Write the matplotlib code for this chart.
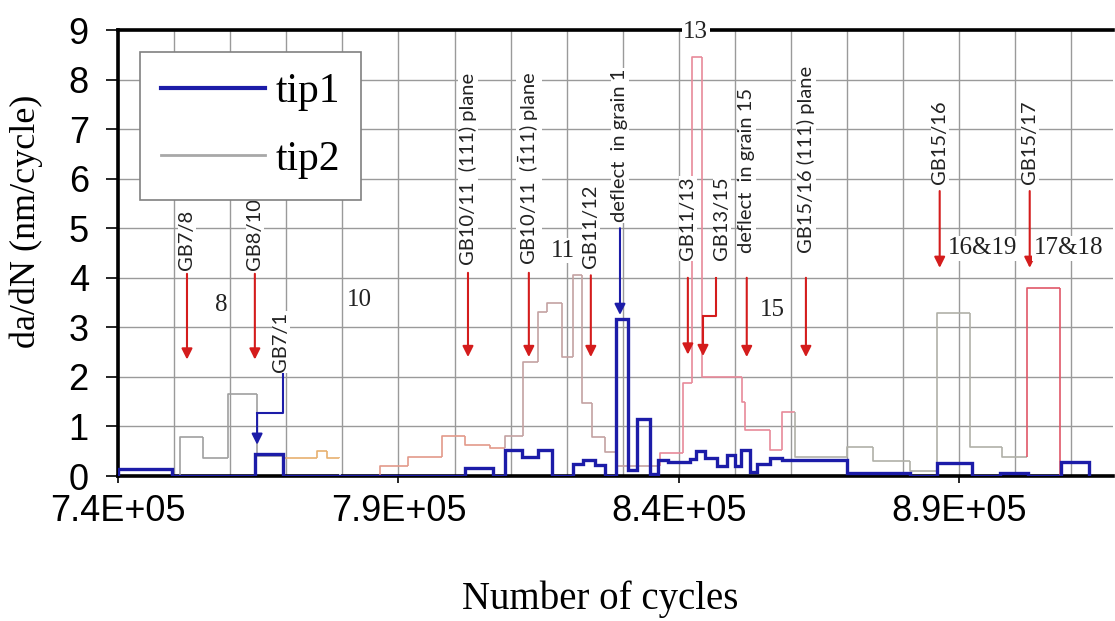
import numpy as np
import matplotlib.pyplot as plt
from matplotlib.lines import Line2D
from matplotlib.collections import LineCollection
from matplotlib.ticker import FixedLocator, MultipleLocator, FuncFormatter

plt.rcParams['mathtext.fontset'] = 'custom'
plt.rcParams['mathtext.rm'] = 'Lato'

# ---------- data ----------
# tip1: step edges (cycles) and da/dN values (nm/cycle)
tip1_edges = [740000, 749600, 764500, 769400, 801900, 806900, 809000, 812000, 814900,
              817400, 821100, 822900, 825000, 826800, 828800, 830900, 832500, 834900,
              836300, 838100, 841900, 843100, 844600, 846800, 848600, 850000, 851100,
              852700, 853900, 856200, 858400, 869900, 881200, 886000, 892200, 897200,
              902200, 908200, 913200]
tip1_vals = [0.15, 0, 0.45, 0, 0.16, 0, 0.52, 0.38, 0.52, 0, 0.25, 0.32, 0.22, 0,
             3.17, 0.12, 1.15, 0.05, 0.33, 0.28, 0.35, 0.5, 0.36, 0.2, 0.42, 0.2,
             0.52, 0.08, 0.25, 0.36, 0.32, 0.06, 0, 0.26, 0, 0.06, 0, 0.28]

# tip2: step edges, values and the tint of each step
tip2_edges = [751050, 755150, 759600, 764800, 769400, 775500, 777250, 779600, 786700,
              791700, 797750, 801850, 806300, 809000, 812200, 814850, 816500, 819150,
              821100, 822700, 824500, 826800, 828950, 836600, 840700, 842300, 844100,
              851200, 851750, 856200, 858350, 860650, 869950, 874600, 881150, 886000,
              891850, 897550, 902000, 907900]
tip2_vals = [0.78, 0.36, 1.65, 0.4, 0.36, 0.5, 0.36, 0, 0.2, 0.39, 0.8, 0.62, 0.56,
             0.8, 2.3, 3.3, 3.5, 2.4, 4.05, 1.47, 0.79, 0.48, 0.2, 0.46, 1.87, 8.45,
             2.0, 1.5, 0.93, 0.52, 1.29, 0.38, 0.58, 0.3, 0.1, 3.29, 0.58, 0.38, 3.79]
tip2_colors = ['#a0a0a0'] * 4 + ['#e8b070'] * 3 + ['#ffffff'] + ['#e39a8a'] * 5 + \
              ['#c4a2a2'] * 10 + ['#e88a9a'] * 8 + ['#b0b0a8'] * 7 + ['#e05868']

# red arrows: grain boundaries / slip planes
gb_x = [752300, 764400, 802400, 813250, 824300, 841600, 852100, 862650, 886500, 902550]
gb_text = ['GB7/8', 'GB8/10', 'GB10/11  (111) plane', r'GB10/11  $(\bar{1}11)$ plane',
           'GB11/12', 'GB11/13', 'deflect  in grain 15', 'GB15/16 (111) plane',
           'GB15/16', 'GB15/17']
gb_text_y = [4.15, 4.15, 4.25, 4.25, 4.2, 4.35, 4.5, 4.5, 5.9, 5.9]
gb_from = [4.08, 4.08, 4.1, 4.1, 4.05, 4.0, 4.0, 4.0, 5.75, 5.75]
gb_to = [2.35, 2.35, 2.4, 2.4, 2.4, 2.45, 2.4, 2.4, 4.2, 4.2]

# bent red arrow GB13/15
gb1315_x = [846600, 846600, 844300]
gb1315_y = [4.0, 3.22, 3.22]
gb1315_tip = 2.42

# blue arrows (tip1 events)
defl_x, defl_text_y, defl_from, defl_to = 829500, 5.12, 5.0, 3.25
gb71_x = [769400, 769400, 764800]
gb71_y = [2.07, 1.27, 1.27]
gb71_tip = 0.63

# grain numbers
grain_x = [758350, 783100, 819300, 843000, 856750, 894200, 909400]
grain_y = [3.45, 3.55, 4.55, 8.95, 3.35, 4.6, 4.6]
grain_text = ['8', '10', '11', '13', '15', '16&19', '17&18']

# ---------- plot ----------
blue = '#1c1ca8'
red = '#d41c1c'

fig = plt.figure(figsize=(11.15, 6.21), dpi=100)
ax = fig.add_axes([118 / 1115, 145 / 621, 995 / 1115, 446 / 621])

ax.stairs(tip1_vals, tip1_edges, baseline=0, color=blue, lw=2.4, zorder=4)

segs, cols = [], []
prev = 0
for i, v in enumerate(tip2_vals):
    x0, x1 = tip2_edges[i], tip2_edges[i + 1]
    segs.append([(x0, prev), (x0, v), (x1, v)])
    cols.append(tip2_colors[i])
    prev = v
segs.append([(tip2_edges[-1], prev), (tip2_edges[-1], 0)])
cols.append(tip2_colors[-1])
ax.add_collection(LineCollection(segs, colors=cols, linewidths=1.2, zorder=3))

lab_kw = dict(rotation=90, ha='center', va='bottom', fontsize=14.5, family='Lato',
              color='#222222', zorder=5, bbox=dict(fc='white', ec='none', pad=0.5))
arrow_kw = dict(arrowstyle='-|>', lw=1.5, mutation_scale=16, shrinkA=0, shrinkB=0)
for x, s, ty, y0, y1 in zip(gb_x, gb_text, gb_text_y, gb_from, gb_to):
    ax.text(x, ty, s, **lab_kw)
    ax.annotate('', xy=(x, y1), xytext=(x, y0),
                arrowprops=dict(color=red, **arrow_kw), zorder=5)

ax.plot(gb1315_x, gb1315_y, color=red, lw=1.5, zorder=5)
ax.annotate('', xy=(gb1315_x[-1], gb1315_tip), xytext=(gb1315_x[-1], gb1315_y[-1]),
            arrowprops=dict(color=red, **arrow_kw), zorder=5)
ax.text(847650, 4.35, 'GB13/15', **lab_kw)

ax.text(defl_x, defl_text_y, 'deflect  in grain 1', **lab_kw)
ax.annotate('', xy=(defl_x, defl_to), xytext=(defl_x, defl_from),
            arrowprops=dict(color=blue, **arrow_kw), zorder=5)

ax.plot(gb71_x, gb71_y, color=blue, lw=1.5, zorder=5)
ax.annotate('', xy=(gb71_x[-1], gb71_tip), xytext=(gb71_x[-1], gb71_y[-1]),
            arrowprops=dict(color=blue, **arrow_kw), zorder=5)
ax.text(769000, 2.1, 'GB7/1', **lab_kw)

for x, y, s in zip(grain_x, grain_y, grain_text):
    ax.text(x, y, s, ha='center', va='center', fontsize=18, family='Liberation Serif',
            color='#222222', zorder=6, clip_on=False,
            bbox=dict(fc='white', ec='none', pad=1))

# axes, ticks, grid
ax.set_xlim(740000, 917400)
ax.set_ylim(0, 9)
ax.xaxis.set_major_locator(FixedLocator([740000, 790000, 840000, 890000]))
ax.xaxis.set_minor_locator(MultipleLocator(10000))
ax.xaxis.set_major_formatter(FuncFormatter(lambda v, _: f"{v:.1E}"))
ax.yaxis.set_major_locator(MultipleLocator(1))
ax.grid(which='both', axis='x', color='#9a9a9a', lw=1.0, zorder=0)
ax.grid(which='major', axis='y', color='#9a9a9a', lw=1.0, zorder=0)
ax.set_axisbelow(True)
ax.tick_params(which='minor', length=0)
ax.tick_params(axis='y', direction='out', length=9, width=1.2, pad=12, labelsize=26)
ax.tick_params(axis='x', direction='out', length=5, width=1.2, pad=8, labelsize=26)
for lab in ax.get_xticklabels() + ax.get_yticklabels():
    lab.set_family('Liberation Sans')

for side in ['left', 'bottom', 'top']:
    ax.spines[side].set_linewidth(2.6)
    ax.spines[side].set_color('black')
ax.spines['right'].set_visible(False)

ax.set_xlabel('Number of cycles', family='Liberation Serif', fontsize=28)
ax.set_ylabel('da/dN (nm/cycle)', family='Liberation Serif', fontsize=26)
ax.xaxis.set_label_coords(0.485, -0.235)
ax.yaxis.set_label_coords(-0.075, 0.57)

handles = [Line2D([], [], color=blue, lw=3), Line2D([], [], color='#a8a8a8', lw=2)]
leg = ax.legend(handles, ['tip1', 'tip2'], loc='upper left',
                bbox_to_anchor=((140 - 118) / 995, (476 - 52) / 446), borderaxespad=0,
                prop={'family': 'Liberation Serif', 'size': 30}, handlelength=2.5,
                labelspacing=0.7, fancybox=False, framealpha=1, edgecolor='#808080',
                borderpad=0.5, handletextpad=0.25)
leg.get_frame().set_linewidth(1.2)
leg.set_zorder(10)

fig.savefig('out.png', dpi=100)
